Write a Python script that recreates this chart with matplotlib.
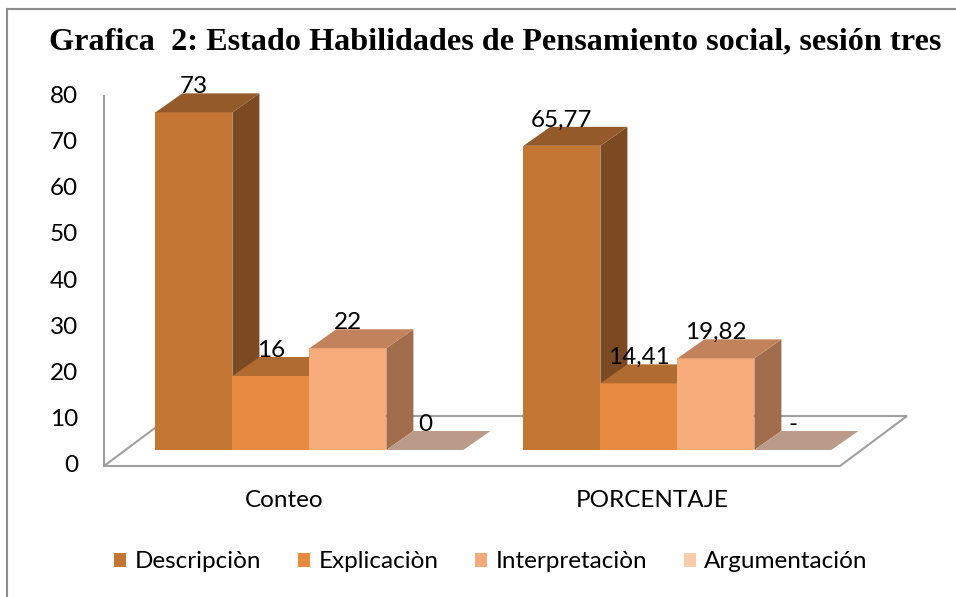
import numpy as np
import matplotlib.pyplot as plt
from matplotlib.patches import Polygon, Patch
from matplotlib.lines import Line2D

# datos
categorias = ['Conteo', 'PORCENTAJE']
series = ['Descripciòn', 'Explicaciòn', 'Interpretaciòn', 'Argumentación']
conteo = [73, 16, 22, 0]
porcentaje = [65.77, 14.41, 19.82, 0]
yticks = [0, 10, 20, 30, 40, 50, 60, 70, 80]
titulo = 'Grafica  2: Estado Habilidades de Pensamiento social, sesión tres'

# colores: frente, arriba, lado
c_front = ['#C37634', '#E78B40', '#F7AB7B', '#F8CBAD']
c_top = ['#955A29', '#B06B31', '#C1825C', '#BC9A8A']
c_side = ['#7C4A22', '#9A5C2A', '#A26D4C', '#A88474']

def lab_conteo(v):
    return str(int(v))

def lab_pct(v):
    return f'{v:.2f}'.replace('.', ',') if v else '-'

valores = [conteo, porcentaje]
formatos = [lab_conteo, lab_pct]

plt.rcParams['font.family'] = ['Lato', 'DejaVu Sans']
FS = 17.5

fig = plt.figure(figsize=(9.56, 5.97), dpi=100)
ax = fig.add_axes([0, 0, 1, 1])
# escala: 1 categoria = 368 px, 1 unidad = 4.625 px
X0, CAT, Y0, UNIT = 104, 368.0, 466, 4.625
ax.set_xlim(-X0 / CAT, (956 - X0) / CAT)
ax.set_ylim((Y0 - 597) / UNIT, Y0 / UNIT)
ax.axis('off')

# profundidad (perspectiva oblicua)
dxf, dyf = 67 / CAT, 50 / UNIT      # piso completo
dxo, dyo = 21.4 / CAT, 16 / UNIT    # plano frontal de las barras
dxb, dyb = 27 / CAT, 19 / UNIT      # profundidad de la barra
w = 77 / CAT

# piso
piso = Polygon([(0, 0), (2, 0), (2 + dxf, dyf), (dxf, dyf)], closed=True,
               facecolor='white', edgecolor='#A0A0A0', lw=1.5, zorder=1)
ax.add_patch(piso)
ax.plot([0, 0], [0, 80], color='#A0A0A0', lw=1.5, zorder=1)

for t in yticks:
    ax.text(-26 / CAT, t, str(t), ha='right', va='center', fontsize=FS, color='black')

for ci, cat in enumerate(categorias):
    centro = ci + 0.5
    ax.text(centro - 0.01, -7.4, cat, ha='center', va='center', fontsize=FS)
    n = len(series)
    for si in range(n):
        v = valores[ci][si]
        x0 = centro + dxo - n * w / 2 + si * w
        y0 = dyo
        x1, y1 = x0 + w, y0 + v
        z = 2 + si
        if v > 0:
            ax.add_patch(Polygon([(x0, y0), (x1, y0), (x1, y1), (x0, y1)],
                                 facecolor=c_front[si], edgecolor='none', zorder=z))
            ax.add_patch(Polygon([(x1, y0), (x1 + dxb, y0 + dyb), (x1 + dxb, y1 + dyb), (x1, y1)],
                                 facecolor=c_side[si], edgecolor='none', zorder=z))
        ax.add_patch(Polygon([(x0, y1), (x1, y1), (x1 + dxb, y1 + dyb), (x0 + dxb, y1 + dyb)],
                             facecolor=c_top[si], edgecolor='none', zorder=z))
        ax.text(x0 + w / 2, y1 + dyb + 1.5, formatos[ci](v), ha='center', va='center',
                fontsize=FS, zorder=10)

# titulo
fig.text(495 / 956, 1 - 42 / 597, titulo, ha='center', va='center',
         fontsize=23.2, fontweight='bold', family='Liberation Serif')

# leyenda
handles = [Patch(facecolor=c_front[i], edgecolor='none', label=series[i]) for i in range(4)]
fig.legend(handles=handles, loc='center', bbox_to_anchor=(491 / 956, 1 - 562 / 597),
           ncol=4, frameon=False, fontsize=FS, handlelength=0.5, handleheight=0.5,
           handletextpad=0.35, columnspacing=1.5)

# borde
fig.add_artist(Line2D([7 / 956, 1], [1 - 9 / 597, 1 - 9 / 597], color='#8C8C8C', lw=1.5))
fig.add_artist(Line2D([7 / 956, 7 / 956], [0, 1 - 9 / 597], color='#8C8C8C', lw=1.5))

fig.savefig('out.png', dpi=100)
